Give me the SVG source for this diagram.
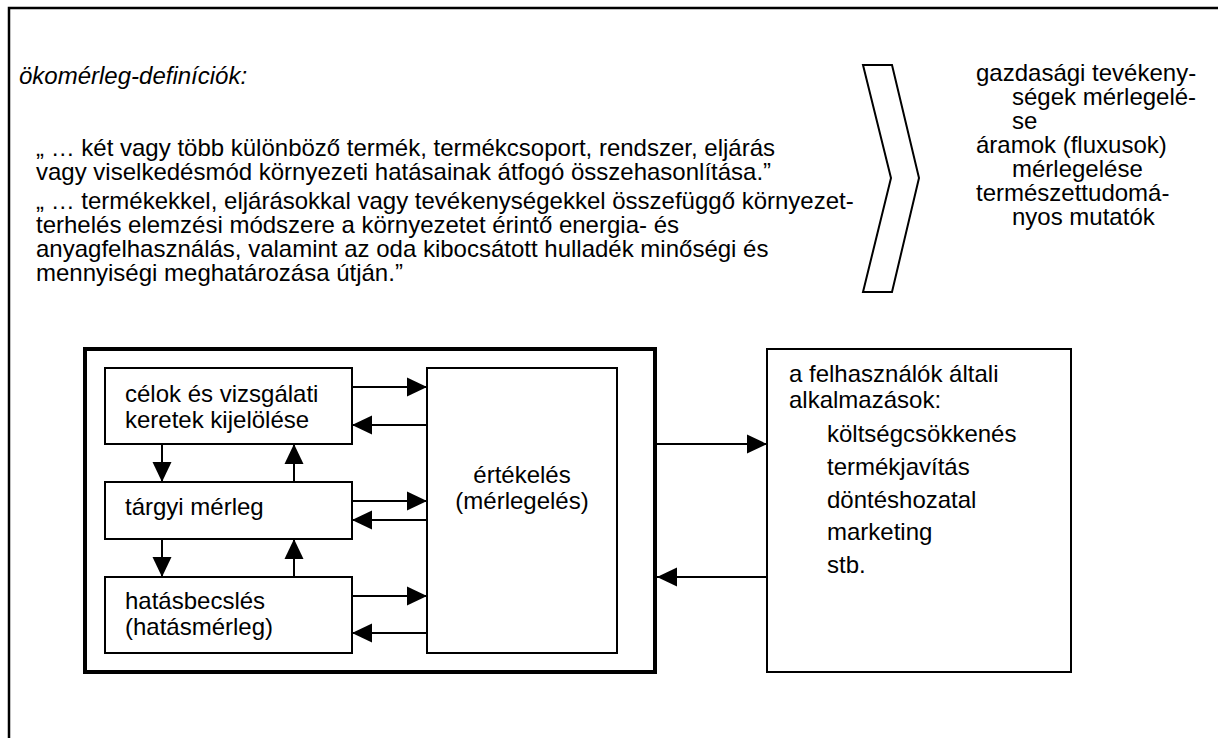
<svg xmlns="http://www.w3.org/2000/svg" width="1218" height="738" viewBox="0 0 1218 738">
  <defs>
    <marker id="arrow" viewBox="0 0 20 20" refX="20" refY="10" markerWidth="20" markerHeight="20" markerUnits="userSpaceOnUse" orient="auto">
      <path d="M0,0.5 L20,10 L0,19.5 z" fill="#000"/>
    </marker>
    <style>
      text { font-family: "Liberation Sans", Arial, sans-serif; fill: #000; }
      .t { font-size: 24px; }
      .ti { font-size: 24px; font-style: italic; }
      .box { fill: #fff; stroke: #000; stroke-width: 2; }
      .frame { fill: none; stroke: #000; stroke-width: 4; }
      .edge { fill: none; stroke: #000; stroke-width: 2; marker-end: url(#arrow); }
      .border { fill: none; stroke: #000; stroke-width: 2.5; }
    </style>
  </defs>

  <rect width="1218" height="738" fill="#fff"/>

  <!-- page border: only the top and left edges are visible -->
  <path class="border" d="M9,738 V8 H1218"/>

  <!-- definitions block -->
  <g id="definitions">
    <text class="ti" x="19" y="84">ökomérleg-definíciók:</text>
    <text class="t" x="36" y="156">„ … két vagy több különböző termék, termékcsoport, rendszer, eljárás</text>
    <text class="t" x="36" y="180">vagy viselkedésmód környezeti hatásainak átfogó összehasonlítása.”</text>
    <text class="t" x="36" y="209">„ … termékekkel, eljárásokkal vagy tevékenységekkel összefüggő környezet-</text>
    <text class="t" x="36" y="233">terhelés elemzési módszere a környezetet érintő energia- és</text>
    <text class="t" x="36" y="257">anyagfelhasználás, valamint az oda kibocsátott hulladék minőségi és</text>
    <text class="t" x="36" y="281">mennyiségi meghatározása útján.”</text>
  </g>

  <!-- chevron -->
  <g id="chevron">
    <polygon points="863,65 892,65 919,178 892,292 863,292 891,178" fill="#fff" stroke="#000" stroke-width="2" stroke-linejoin="miter"/>
  </g>

  <!-- aspects list -->
  <g id="aspects">
    <text class="t" x="976" y="81">gazdasági tevékeny-</text>
    <text class="t" x="1012" y="105">ségek mérlegelé-</text>
    <text class="t" x="1012" y="129">se</text>
    <text class="t" x="976" y="153">áramok (fluxusok)</text>
    <text class="t" x="1012" y="177">mérlegelése</text>
    <text class="t" x="976" y="201">természettudomá-</text>
    <text class="t" x="1012" y="225">nyos mutatók</text>
  </g>

  <!-- framework frame -->
  <g id="framework">
    <rect class="frame" x="85" y="349" width="570" height="323"/>
  </g>

  <g id="goal">
    <rect class="box" x="105" y="368" width="247" height="76"/>
    <text class="t" x="125" y="402">célok és vizsgálati</text>
    <text class="t" x="125" y="428">keretek kijelölése</text>
  </g>

  <g id="inventory">
    <rect class="box" x="105" y="482" width="247" height="57"/>
    <text class="t" x="125" y="515">tárgyi mérleg</text>
  </g>

  <g id="impact">
    <rect class="box" x="105" y="577" width="247" height="76"/>
    <text class="t" x="125" y="609">hatásbecslés</text>
    <text class="t" x="125" y="635">(hatásmérleg)</text>
  </g>

  <g id="evaluation">
    <rect class="box" x="427" y="368" width="190" height="285"/>
    <text class="t" x="522" y="483" text-anchor="middle">értékelés</text>
    <text class="t" x="522" y="509" text-anchor="middle">(mérlegelés)</text>
  </g>

  <g id="applications">
    <rect class="box" x="767" y="349" width="304" height="323"/>
    <text class="t" x="789" y="382">a felhasználók általi</text>
    <text class="t" x="789" y="408">alkalmazások:</text>
    <text class="t" x="827" y="442">költségcsökkenés</text>
    <text class="t" x="827" y="475">termékjavítás</text>
    <text class="t" x="827" y="508">döntéshozatal</text>
    <text class="t" x="827" y="540">marketing</text>
    <text class="t" x="827" y="573">stb.</text>
  </g>

  <!-- connectors -->
  <g id="connectors">
    <line class="edge" x1="352" y1="387" x2="427" y2="387"/>
    <line class="edge" x1="427" y1="425" x2="352" y2="425"/>
    <line class="edge" x1="352" y1="501" x2="427" y2="501"/>
    <line class="edge" x1="427" y1="520" x2="352" y2="520"/>
    <line class="edge" x1="352" y1="596" x2="427" y2="596"/>
    <line class="edge" x1="427" y1="633" x2="352" y2="633"/>

    <line class="edge" x1="162" y1="444" x2="162" y2="482"/>
    <line class="edge" x1="294" y1="482" x2="294" y2="444"/>
    <line class="edge" x1="162" y1="539" x2="162" y2="577"/>
    <line class="edge" x1="294" y1="577" x2="294" y2="539"/>

    <line class="edge" x1="655" y1="444" x2="767" y2="444"/>
    <line class="edge" x1="767" y1="577" x2="657" y2="577"/>
  </g>
</svg>
